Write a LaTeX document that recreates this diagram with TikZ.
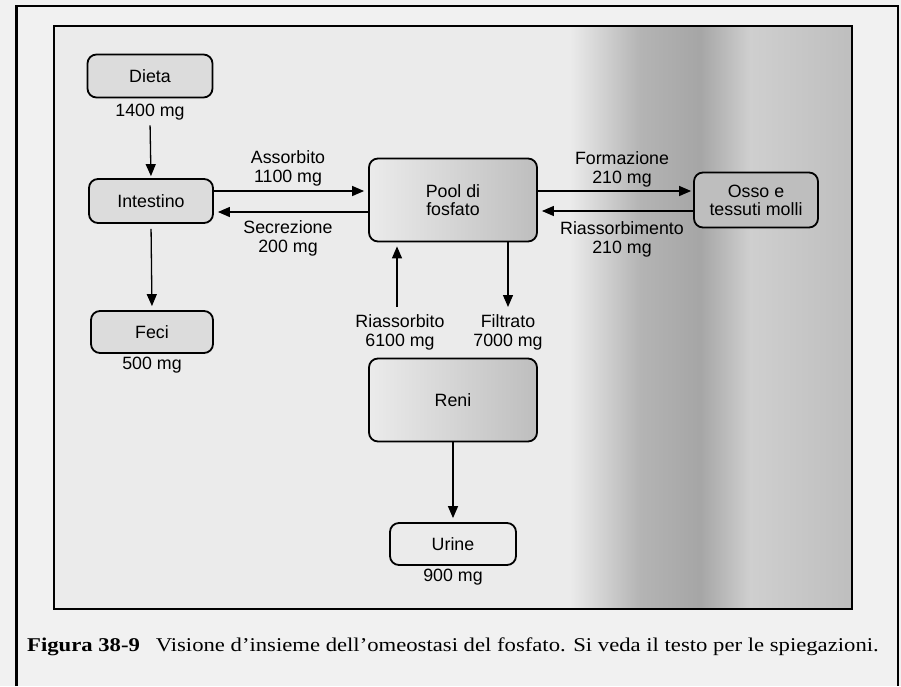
\documentclass[tikz,border=0pt]{standalone}
\usepackage{fontspec}
\setmainfont{Liberation Serif}
\setsansfont{Liberation Sans}
\usetikzlibrary{arrows.meta}
\definecolor{pagebg}{HTML}{F1F1F1}
\definecolor{panelbg}{HTML}{EBEBEB}
\definecolor{boxbg}{HTML}{DCDCDC}
\definecolor{bandA}{HTML}{B4B4B4}
\definecolor{bandB}{HTML}{CFCFCF}
\definecolor{bandC}{HTML}{BEBEBE}
\tikzset{
  stagebox/.style={draw=black, line width=1.8pt, rounded corners=9pt, fill=boxbg,
    font=\sffamily\fontsize{17.8}{18}\selectfont, align=center, inner sep=0pt},
  amount/.style={font=\sffamily\fontsize{17.8}{19}\selectfont, align=center, inner sep=1pt},
  flow/.style={line width=1.3pt, -{Triangle[length=12pt,width=10pt]}},
}
\begin{document}
\begin{tikzpicture}[x=1pt,y=-1pt]
\useasboundingbox (0,0) rectangle (901,686);
\fill[pagebg] (0,0) rectangle (901,686);
% panel background with scan shading
\fill[panelbg] (54,26) rectangle (852,609);
\shade[left color=panelbg, right color=bandA] (570,26) rectangle (640,609);
\shade[left color=bandA, right color=bandA!92!black] (640,26) rectangle (700,609);
\shade[left color=bandA!92!black, right color=bandB] (700,26) rectangle (750,609);
\shade[left color=bandB, right color=bandC] (750,26) rectangle (852,609);
\draw[line width=1.5pt] (54,26) rectangle (852,609);
% outer frame
\draw[line width=2.5pt] (16.5,686) -- (16.5,6) -- (898,6) -- (898,686);

% boxes
\node[stagebox, minimum width=125pt, minimum height=43pt] (dieta) at (150,76) {Dieta};
\node[stagebox, minimum width=124pt, minimum height=44pt] (intest) at (151,201) {Intestino};
\node[stagebox, minimum width=122pt, minimum height=42pt] (feci) at (152,332) {Feci};
\node[stagebox, minimum width=168pt, minimum height=83pt, fill=none, left color=panelbg, right color=bandC] (pool) at (453,200) {Pool di\\fosfato};
\node[stagebox, minimum width=124pt, minimum height=55pt, fill=bandC] (osso) at (756,200) {Osso e\\tessuti molli};
\node[stagebox, minimum width=168pt, minimum height=83pt, fill=none, left color=panelbg, right color=bandC] (reni) at (453,400) {Reni};
\node[stagebox, minimum width=126pt, minimum height=42pt, fill=panelbg] (urine) at (453,544) {Urine};

% amounts
\node[amount] (dmg) at (150,112) {1400 mg};
\node[amount] (fmg) at (152,365) {500 mg};
\node[amount] (umg) at (453,577) {900 mg};
\node[amount] (ass) at (288,168) {Assorbito\\1100 mg};
\node[amount] (sec) at (288,238) {Secrezione\\200 mg};
\node[amount] (form) at (622,169) {Formazione\\210 mg};
\node[amount] (rias) at (622,239) {Riassorbimento\\210 mg};
\node[amount] (riab) at (400,332) {Riassorbito\\6100 mg};
\node[amount] (filt) at (508,332) {Filtrato\\7000 mg};

% connectors
\draw[flow, shorten <=4pt, shorten >=2pt] (dmg.south) -- (intest.north);
\draw[flow, shorten <=5pt, shorten >=4pt] (intest.south) -- (feci.north);
\draw[flow, shorten >=4pt] (intest.east |- 0,191) -- (pool.west |- 0,191);
\draw[flow, shorten >=4pt] (pool.west |- 0,212) -- (intest.east |- 0,212);
\draw[flow, shorten >=2pt] (pool.east |- 0,191) -- (osso.west |- 0,191);
\draw[flow, shorten >=4pt] (osso.west |- 0,211) -- (pool.east |- 0,211);
\coordinate (riabtop) at (397,307);
\draw[flow, shorten >=4pt] (riabtop) -- (riabtop |- pool.south);
\coordinate (filttop) at (508,307);
\draw[flow] (filttop |- pool.south) -- (filttop);
\draw[flow, shorten >=4pt] (reni.south) -- (urine.north);

% caption
\node[anchor=base west, inner sep=0pt, font=\fontsize{19.5}{21}\selectfont] (cap) at (27,651)
  {\scalebox{1.163}[1]{\textbf{Figura 38-9}\hspace{0.7em}Visione d’insieme dell’omeostasi del fosfato. Si veda il testo per le spiegazioni.}};
\end{tikzpicture}
\end{document}
